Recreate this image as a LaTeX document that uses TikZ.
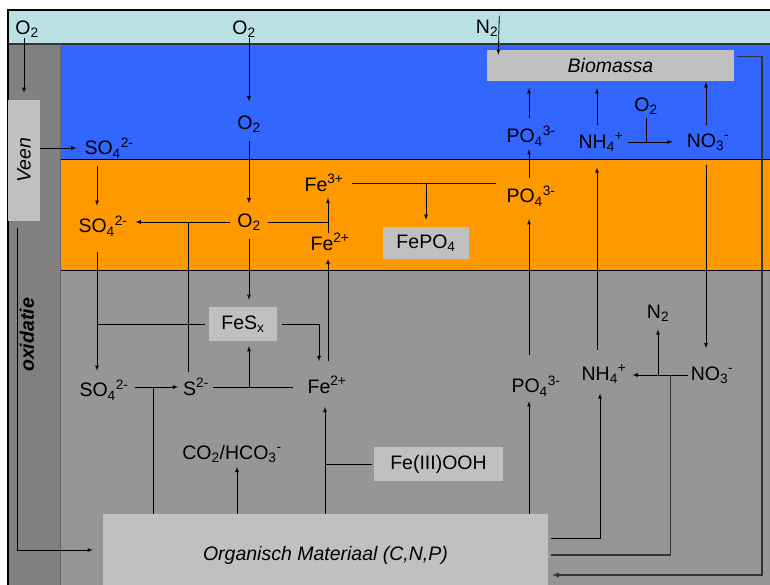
\documentclass[tikz,border=0pt]{standalone}
\usepackage{fontspec}
\setmainfont{Liberation Sans}
\usepackage{xcolor}
\usetikzlibrary{arrows}
\definecolor{aircol}{RGB}{187,224,227}
\definecolor{watercol}{RGB}{51,102,255}
\definecolor{ironcol}{RGB}{255,153,0}
\definecolor{soilcol}{RGB}{150,150,150}
\definecolor{stripcol}{RGB}{128,128,128}
\definecolor{boxgray}{RGB}{192,192,192}
\newcommand\chemfont{\fontsize{19.5}{23}\selectfont}

\begin{document}
\begin{tikzpicture}[x=1pt,y=-1pt,
  arr/.style={-latex, line width=0.8pt},
  lin/.style={line width=0.8pt},
  loop/.style={line width=1.3pt, draw=black!80},
  chem/.style={inner sep=0pt, font=\chemfont},
  box/.style={fill=boxgray, inner sep=0pt, font=\chemfont}]
  \def\Wd{770}
  \def\Ht{585}
  \def\airY{44}
  \def\waterY{160}
  \def\ironY{270}
  \def\stripX{60}

  \useasboundingbox (0,0) rectangle (\Wd,\Ht);
  \clip (0,0) rectangle (\Wd,\Ht);

%layers:
  \fill[aircol] (8,10) rectangle (\Wd,\airY);
  \fill[stripcol] (8,\airY) rectangle (\stripX,\Ht);
  \fill[watercol] (\stripX,\airY) rectangle (\Wd,\waterY);
  \fill[ironcol] (\stripX,\waterY) rectangle (\Wd,\ironY);
  \fill[soilcol] (\stripX,\ironY) rectangle (\Wd,\Ht);
  \draw[line width=1.3pt, black!80] (8,\airY) -- (\Wd,\airY);
  \draw[line width=1pt] (\stripX,\waterY) -- (\Wd,\waterY);
  \draw[line width=1pt] (\stripX,\ironY) -- (\Wd,\ironY);
  \draw[line width=0.8pt, black!60] (\stripX,\airY) -- (\stripX,\Ht);
  \draw[line width=1.3pt] (8,\Ht) -- (8,10) -- (\Wd,10);
%%%%%%

%boxes:
  \node[box, minimum width=32pt, minimum height=121pt] (veen) at (24,160.5) {\rotatebox{90}{\itshape Veen}};
  \node[box, minimum width=247pt, minimum height=31pt] (biomassa) at (610.5,65.5) {\itshape Biomassa};
  \node[box, minimum width=86pt, minimum height=32pt] (fepo4) at (426,243) {FePO\textsubscript{4}};
  \node[box, minimum width=68pt, minimum height=34pt] (fesx) at (243,324) {FeS\textsubscript{x}};
  \node[box, minimum width=129pt, minimum height=34pt] (feooh) at (438.5,464) {Fe(III)OOH};
  \node[box, minimum width=445pt, minimum height=82pt] (organisch) at (325.5,555) {\itshape Organisch Materiaal (C,N,P)};
  \node[chem, rotate=90, font=\chemfont\bfseries\itshape] (oxidatie) at (27,335) {oxidatie};

%species:
  \node[chem] (o2air) at (27,29) {O\textsubscript{2}};
  \node[chem] (o2top) at (244,29) {O\textsubscript{2}};
  \node[chem] (n2air) at (487,28) {N\textsubscript{2}};
  \node[chem] (o2blue) at (249,124) {O\textsubscript{2}};
  \node[chem] (so4blue) at (109,148) {SO\textsubscript{4}\textsuperscript{2-}};
  \node[chem] (so4orange) at (103,226) {SO\textsubscript{4}\textsuperscript{2-}};
  \node[chem] (o2orange) at (249,222) {O\textsubscript{2}};
  \node[chem] (fe3) at (324,183) {Fe\textsuperscript{3+}};
  \node[chem] (fe2o) at (330,242) {Fe\textsuperscript{2+}};
  \node[chem] (po4o) at (531,196) {PO\textsubscript{4}\textsuperscript{3-}};
  \node[chem] (po4b) at (531,136) {PO\textsubscript{4}\textsuperscript{3-}};
  \node[chem] (nh4b) at (601,142) {NH\textsubscript{4}\textsuperscript{+}};
  \node[chem] (o2n) at (646,106) {O\textsubscript{2}};
  \node[chem] (no3b) at (708,142) {NO\textsubscript{3}\textsuperscript{-}};
  \node[chem] (so4g) at (104,390) {SO\textsubscript{4}\textsuperscript{2-}};
  \node[chem] (s2) at (196,387) {S\textsuperscript{2-}};
  \node[chem] (fe2g) at (327,385) {Fe\textsuperscript{2+}};
  \node[chem] (co2) at (232,454) {CO\textsubscript{2}/HCO\textsubscript{3}\textsuperscript{-}};
  \node[chem] (po4g) at (536,386) {PO\textsubscript{4}\textsuperscript{3-}};
  \node[chem] (nh4g) at (604,374) {NH\textsubscript{4}\textsuperscript{+}};
  \node[chem] (n2g) at (658,313) {N\textsubscript{2}};
  \node[chem] (no3g) at (712,375) {NO\textsubscript{3}\textsuperscript{-}};
  \coordinate (rim) at (762,575);

%air and water:
  \draw[arr] (veen.north |- o2air.south) -- ([yshift=7pt]veen.north);
  \draw[arr] (o2blue.north |- o2top.south) -- ([yshift=14pt]o2blue.north);
  \draw[arr] ([xshift=1pt,yshift=4pt]n2air.north east) -- ([yshift=-5pt]biomassa.north -| n2air.east);
  \draw[arr] (veen.east |- so4blue) -- ([xshift=-8pt]so4blue.west);
  \draw[arr] ([yshift=-8pt]o2blue.south) -- ([yshift=10pt]o2orange.north);
  \draw[arr] ([xshift=-6pt,yshift=-8pt]so4orange.north |- so4blue.south) -- ([xshift=-6pt,yshift=10pt]so4orange.north);
  \draw[arr] ([xshift=-2pt,yshift=8pt]po4b.north) -- ([xshift=-2pt,yshift=-7pt]biomassa.south -| po4b.north);
  \draw[arr] ([xshift=-4pt,yshift=8pt]nh4b.north) -- ([xshift=-4pt,yshift=-7pt]biomassa.south -| nh4b.north);
  \draw[arr] ([xshift=-2pt,yshift=8pt]no3b.north) -- ([xshift=-2pt,yshift=-1pt]biomassa.south -| no3b.north);
  \draw[lin] ([yshift=-3pt]o2n.south) -- (o2n.south |- nh4b.east);
  \draw[arr] ([xshift=4pt]nh4b.east) -- ([xshift=-14pt]no3b.west |- nh4b.east);

%iron layer:
  \draw[arr] ([xshift=-7pt]o2orange.west) -- ([xshift=8pt]so4orange.east |- o2orange.west);
  \draw[lin] ([xshift=7pt]o2orange.east) -- ([xshift=-2pt]fe2o.north |- o2orange.east);
  \draw[arr] ([xshift=-2pt]fe2o.north) -- ([xshift=-2pt,yshift=-6pt]fe2o.north |- fe3.south);
  \draw[lin] ([xshift=8pt]fe3.east) -- ([xshift=-10pt]po4o.west |- fe3.east);
  \draw[arr] (fepo4.north |- fe3.east) -- ([yshift=7pt]fepo4.north);
  \draw[arr] ([xshift=-2pt,yshift=8pt]po4o.north) -- ([xshift=-2pt,yshift=-3pt]po4b.south);

%sediment:
  \draw[arr] ([xshift=-7pt,yshift=15pt]nh4g.north) -- ([xshift=-7pt,yshift=-16pt]nh4g.north |- nh4b.south);
  \draw[arr] ([xshift=-2pt,yshift=-14pt]no3b.south) -- ([xshift=-2pt,yshift=18pt]no3b.south |- no3g.north);
  \draw[arr] ([xshift=-2pt,yshift=21pt]po4o.south |- po4g.north) -- ([xshift=-2pt,yshift=-13pt]po4o.south);
  \draw[arr] ([xshift=-3pt]no3g.west) -- ([xshift=6pt]nh4g.east |- no3g.west);
  \draw[arr] (n2g.south |- no3g.west) -- ([yshift=-8pt]n2g.south);
  \draw[arr] ([xshift=-6pt,yshift=-16pt]so4orange.south) -- ([xshift=-6pt,yshift=9pt]so4orange.south |- so4g.north);
  \draw[lin] ([xshift=-6pt]so4orange.south |- fesx.west) -- ([xshift=-4pt]fesx.west);
  \draw[arr] ([yshift=-8pt]o2orange.south) -- ([yshift=7pt]fesx.north -| o2orange.south);
  \draw[lin] ([xshift=-8pt,yshift=6pt]s2.north) -- ([xshift=-8pt]s2.north |- o2orange.west);
  \draw[arr] ([xshift=5pt]fesx.east) -| ([xshift=-8pt,yshift=15pt]fe2g.north);
  \draw[arr] ([xshift=1pt,yshift=15pt]fe2g.north) -- ([xshift=1pt,yshift=-8pt]fe2g.north |- fe2o.south);
  \draw[arr] ([xshift=6pt]so4g.east |- s2.west) -- ([xshift=-5pt]s2.west);
  \draw[lin] ([xshift=4pt]s2.east) -- ([xshift=-14pt]fe2g.west |- s2.east);
  \draw[arr] (o2orange.south |- s2.east) -- ([yshift=-5pt]fesx.south -| o2orange.south);

%organic matter:
  \draw[lin] ([xshift=-30pt]s2.west |- organisch.north) -- ([xshift=-30pt]s2.west);
  \draw[arr] ([xshift=5pt]co2.south |- organisch.north) -- ([xshift=5pt,yshift=-4pt]co2.south);
  \draw[arr] ([xshift=-2pt]fe2g.south |- organisch.north) -- ([xshift=-2pt,yshift=-13pt]fe2g.south);
  \draw[lin] ([xshift=-2pt]feooh.west) -- ([xshift=-2pt]fe2g.south |- feooh.west);
  \draw[arr] ([xshift=-7pt]po4g.south |- organisch.north) -- ([xshift=-7pt,yshift=-5pt]po4g.south);
  \draw[arr] ([xshift=3pt,yshift=17pt]organisch.east) -| ([xshift=-4pt,yshift=-10pt]nh4g.south);
  \draw[loop] ([xshift=3pt]organisch.east) -| ([xshift=-20pt]no3g.west);
  \draw[arr, loop] ([xshift=3pt,yshift=-7pt]biomassa.north east) -| (rim) -- ([xshift=4pt]organisch.east |- rim);
  \draw[arr] ([xshift=-7pt,yshift=-7pt]veen.south) |- ([xshift=-10pt,yshift=5pt]organisch.west);
\end{tikzpicture}
\end{document}
